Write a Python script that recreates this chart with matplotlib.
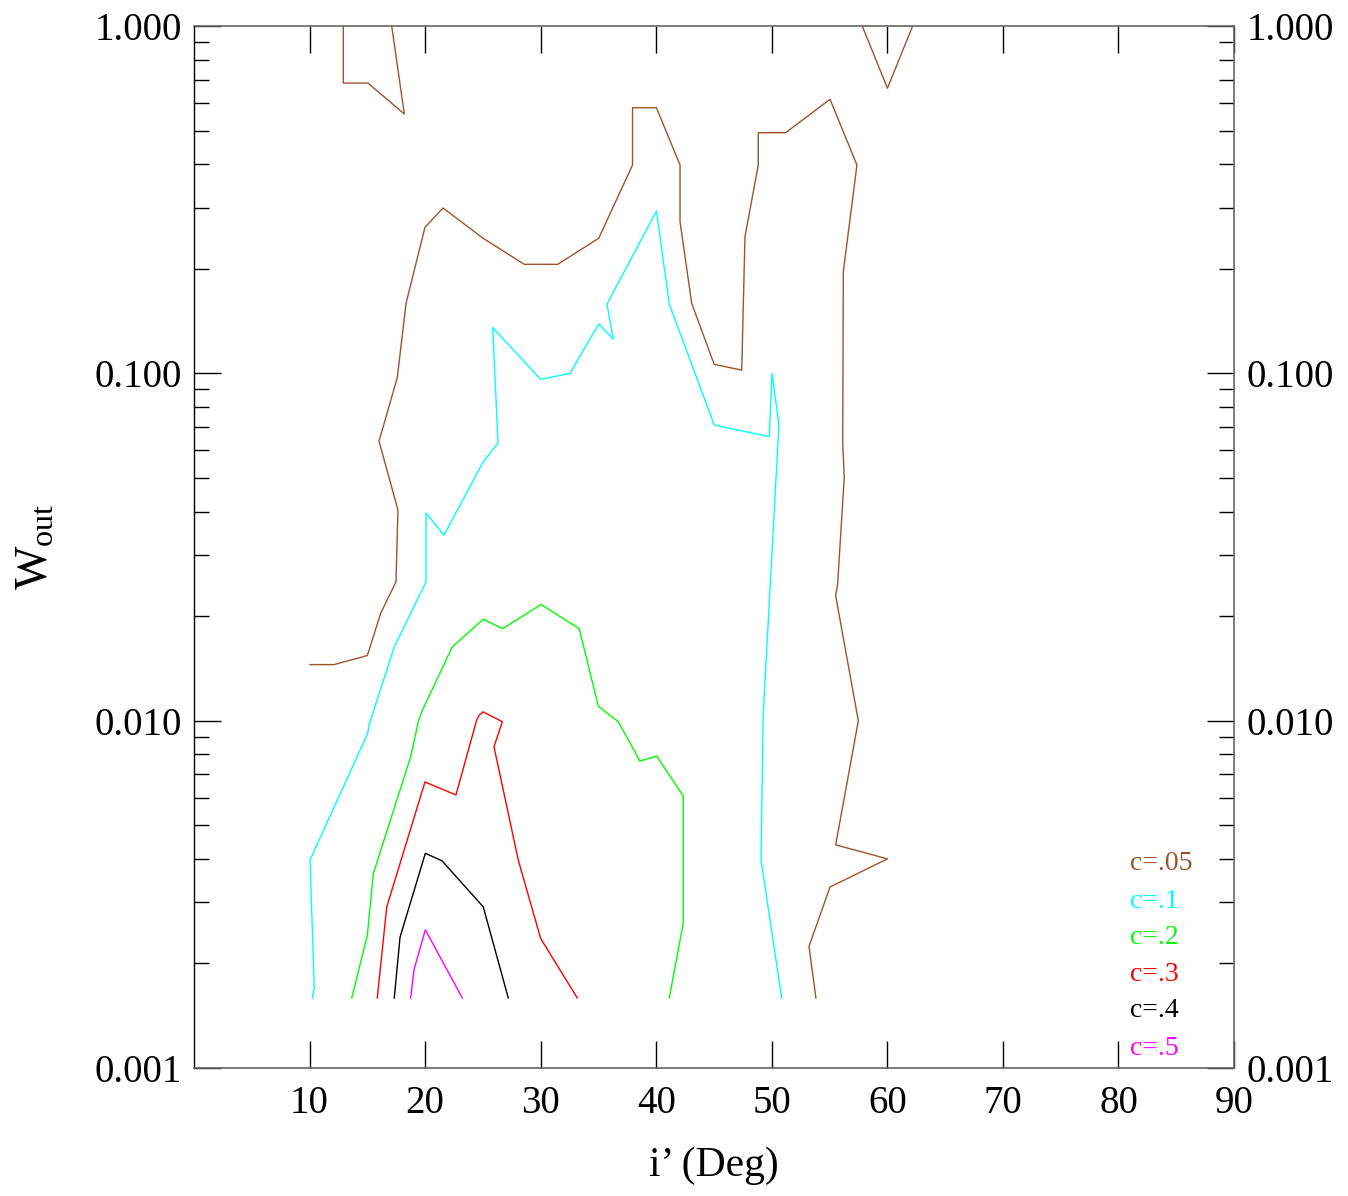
import matplotlib
matplotlib.use("Agg")
import matplotlib.pyplot as plt
from matplotlib.ticker import FixedLocator, LogLocator, FormatStrFormatter, NullFormatter

plt.rcParams["font.family"] = ["Liberation Serif", "DejaVu Serif"]
plt.rcParams["mathtext.fontset"] = "custom"
plt.rcParams["mathtext.rm"] = "Liberation Serif"

# contour levels and colours
LEVELS = ["c=.05", "c=.1", "c=.2", "c=.3", "c=.4", "c=.5"]
COLORS = ["#a0522d", "#00ffff", "#00ff00", "#ff0000", "#000000", "#ff00ff"]

# c=.05 (three pieces)
c05_a_x = [12.92, 12.92, 15.06, 18.20, 17.11]
c05_a_y = [1.0, 0.685, 0.685, 0.558, 1.0]
c05_b_x = [57.83, 60.01, 62.19]
c05_b_y = [1.0, 0.662, 1.0]
c05_x = [10.04, 12.11, 15.00, 16.16, 17.48, 17.65, 16.01, 17.59, 18.35, 19.99,
         21.55, 25.03, 28.58, 31.47, 35.02, 37.95, 37.95, 40.02, 42.06, 42.06,
         43.07, 45.02, 47.40, 47.68, 48.83, 48.83, 51.20, 55.04, 57.37, 56.19,
         56.14, 56.27, 55.70, 55.53, 57.49, 55.53, 60.01, 55.04, 53.22, 53.82]
c05_y = [0.0145, 0.0145, 0.0154, 0.0204, 0.0251, 0.0404, 0.0638, 0.0971, 0.159, 0.2633,
         0.2992, 0.2447, 0.2060, 0.2060, 0.2447, 0.3979, 0.5817, 0.5817, 0.3979, 0.2732,
         0.159, 0.1061, 0.1022, 0.2473, 0.3979, 0.4930, 0.4930, 0.6151, 0.3979, 0.1961,
         0.0630, 0.0500, 0.0248, 0.0229, 0.00999, 0.00439, 0.00400, 0.00332, 0.00224, 0.00159]

# c=.1
c1_x = [10.24, 10.41, 10.04, 15.03, 15.14, 17.33, 20.08, 20.08, 21.63, 25.01,
        26.31, 25.85, 30.00, 32.54, 35.02, 36.28, 35.74, 40.02, 41.13, 45.02,
        49.78, 50.02, 50.62, 49.26, 49.07, 50.86]
c1_y = [0.00159, 0.00170, 0.00397, 0.00919, 0.00971, 0.0163, 0.0251, 0.0396, 0.0342, 0.0555,
        0.0630, 0.1353, 0.0961, 0.1000, 0.1387, 0.1255, 0.1583, 0.2934, 0.1583, 0.0710,
        0.0657, 0.1000, 0.0710, 0.01047, 0.00397, 0.00159]

# c=.2
c2_x = [13.65, 15.00, 15.52, 18.75, 19.41, 19.76, 22.35, 25.03, 26.71, 30.03,
        33.34, 34.99, 36.72, 38.59, 40.04, 42.34, 42.34, 41.13]
c2_y = [0.00159, 0.00241, 0.00363, 0.00787, 0.00993, 0.0107, 0.0163, 0.0196, 0.0184, 0.0216,
        0.0184, 0.0110, 0.00993, 0.00765, 0.00791, 0.00607, 0.00261, 0.00159]

# c=.3
c3_x = [15.86, 16.68, 19.99, 22.67, 24.46, 24.69, 25.03, 26.68, 25.96, 28.06, 30.00, 33.17]
c3_y = [0.00159, 0.00291, 0.00666, 0.00611, 0.01004, 0.01038, 0.0106, 0.00993, 0.00841,
        0.00397, 0.00236, 0.00159]

# c=.4
c4_x = [17.33, 17.83, 20.02, 21.46, 25.03, 27.20]
c4_y = [0.00159, 0.00238, 0.00415, 0.00395, 0.00291, 0.00159]

# c=.5
c5_x = [18.75, 19.04, 20.02, 23.22]
c5_y = [0.00159, 0.00192, 0.00250, 0.00159]

X_TICKS = [10, 20, 30, 40, 50, 60, 70, 80, 90]
Y_TICKS = [0.001, 0.01, 0.1, 1.0]

fig = plt.figure(figsize=(13.48, 11.96), dpi=100)
ax = fig.add_axes([194 / 1348, 128 / 1196, 1040 / 1348, 1042 / 1196])

lw = 1.0
ax.plot(c05_a_x, c05_a_y, color=COLORS[0], lw=lw)
ax.plot(c05_b_x, c05_b_y, color=COLORS[0], lw=lw)
ax.plot(c05_x, c05_y, color=COLORS[0], lw=lw)
ax.plot(c1_x, c1_y, color=COLORS[1], lw=lw)
ax.plot(c2_x, c2_y, color=COLORS[2], lw=lw)
ax.plot(c3_x, c3_y, color=COLORS[3], lw=lw)
ax.plot(c4_x, c4_y, color=COLORS[4], lw=lw)
ax.plot(c5_x, c5_y, color=COLORS[5], lw=lw)

ax.set_yscale("log")
ax.set_xlim(0, 90)
ax.set_ylim(0.001, 1.0)

ax.xaxis.set_major_locator(FixedLocator(X_TICKS))
ax.yaxis.set_major_locator(FixedLocator(Y_TICKS))
ax.yaxis.set_minor_locator(LogLocator(base=10, subs=range(2, 10)))
ax.yaxis.set_major_formatter(FormatStrFormatter("%.3f"))
ax.yaxis.set_minor_formatter(NullFormatter())

ax.tick_params(axis="x", which="major", direction="in", length=19.5, width=1.0,
               top=True, bottom=True, labelsize=28, pad=12)
ax.tick_params(axis="y", which="major", direction="in", length=19.5, width=1.0,
               left=True, right=True, labelleft=True, labelright=True,
               labelsize=28, pad=9)
ax.tick_params(axis="y", which="minor", direction="in", length=11, width=1.0,
               left=True, right=True)

for side in ["top", "bottom", "right"]:
    ax.spines[side].set_color("#666666")
    ax.spines[side].set_linewidth(1.2)
ax.spines["left"].set_color("black")
ax.spines["left"].set_linewidth(1.0)

ax.set_xlabel("i\u2019 (Deg)", fontsize=30, labelpad=18)
ax.set_ylabel(r"$\mathregular{W_{out}}$", fontsize=33, labelpad=26)

# level key, lower right
key_y = [0.196, 0.160, 0.125, 0.090, 0.055, 0.019]
for lab, col, yy in zip(LEVELS, COLORS, key_y):
    ax.text(0.900, yy, lab, color=col, fontsize=20, ha="left", va="center",
            transform=ax.transAxes)

fig.savefig("out.png", dpi=100)
